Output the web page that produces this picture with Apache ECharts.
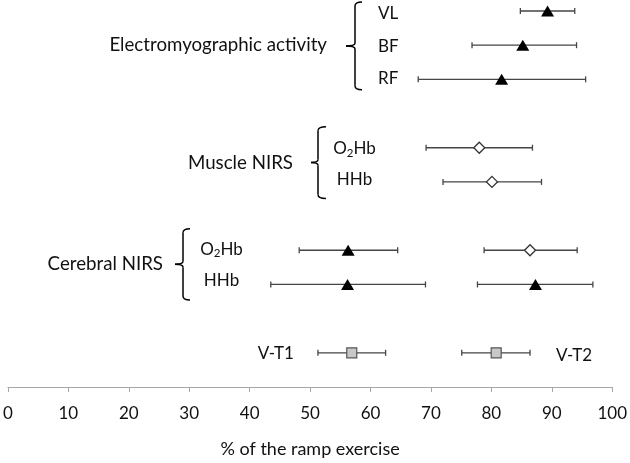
<!DOCTYPE html>
<html><head><meta charset="utf-8">
<script src="https://cdn.jsdelivr.net/npm/echarts@6/dist/echarts.min.js"></script>
<style>html,body{margin:0;padding:0;background:#fff}#c{width:630px;height:463px}</style>
</head><body><div id="c"></div>
<script>
// Row index on the vertical scale (0 = top row)
const emgLabels = ['VL', 'BF', 'RF'];
const emgRows = [0, 1, 2];
const emgMean = [89.3, 85.2, 81.7];
const emgLow = [84.8, 76.8, 67.9];
const emgHigh = [93.8, 94.1, 95.6];

const muscleLabels = ['O2Hb', 'HHb'];
const muscleRows = [4, 5];
const muscleMean = [78.0, 80.1];
const muscleLow = [69.2, 72.0];
const muscleHigh = [86.8, 88.3];

const cerebralLabels = ['O2Hb', 'HHb'];
const cerebralRows = [7, 8];
const cerebral1Mean = [56.3, 56.2];   // first threshold (triangles)
const cerebral1Low = [48.2, 43.5];
const cerebral1High = [64.5, 69.1];
const cerebral2Mean = [86.4, 87.3];   // second threshold (O2Hb diamond, HHb triangle)
const cerebral2Low = [78.8, 77.7];
const cerebral2High = [94.2, 96.8];
const cerebral2Symbol = ['diamond', 'triangle'];

const vtLabels = ['V-T1', 'V-T2'];
const vtRow = 10;
const vtMean = [56.9, 80.8];
const vtLow = [51.3, 75.1];
const vtHigh = [62.5, 86.4];

const xMin = 0, xMax = 100, xInterval = 10;
const xTitle = '% of the ramp exercise';

const FONT = 'Lato';
const TXT = '#111';

// build data
const errData = [], triData = [], diaData = [], sqData = [];
emgRows.forEach((r, i) => { errData.push([emgLow[i], emgHigh[i], r]); triData.push([emgMean[i], r]); });
muscleRows.forEach((r, i) => { errData.push([muscleLow[i], muscleHigh[i], r]); diaData.push([muscleMean[i], r]); });
cerebralRows.forEach((r, i) => {
  errData.push([cerebral1Low[i], cerebral1High[i], r]); triData.push([cerebral1Mean[i], r]);
  errData.push([cerebral2Low[i], cerebral2High[i], r]);
  (cerebral2Symbol[i] === 'diamond' ? diaData : triData).push([cerebral2Mean[i], r]);
});
vtMean.forEach((m, i) => { errData.push([vtLow[i], vtHigh[i], vtRow]); sqData.push([m, vtRow]); });

const chart = echarts.init(document.getElementById('c'), null, { renderer: 'canvas' });
const option = {
  animation: false,
  backgroundColor: '#fff',
  textStyle: { fontFamily: FONT },
  grid: { left: 5.3, right: 14.7, top: 11, bottom: 72.5 },
  xAxis: {
    type: 'value', min: xMin, max: xMax, interval: xInterval,
    name: xTitle, nameLocation: 'middle', nameGap: 53,
    nameTextStyle: { fontFamily: FONT, fontSize: 18, color: TXT },
    axisLine: { onZero: false, lineStyle: { color: '#a6a6a6', width: 1 } },
    axisTick: { show: true, length: 5, lineStyle: { color: '#a6a6a6' } },
    axisLabel: { margin: 18, fontFamily: FONT, fontSize: 17, color: TXT },
    splitLine: { show: false }
  },
  yAxis: { type: 'value', min: 0, max: 11, inverse: true, show: false, splitLine: { show: false } },
  series: [
    {
      type: 'custom', data: errData, encode: { x: [0, 1], y: 2 }, z: 2,
      renderItem: function (params, api) {
        const lo = api.coord([api.value(0), api.value(2)]);
        const hi = api.coord([api.value(1), api.value(2)]);
        const c = 3;
        const st = { stroke: '#454545', lineWidth: 1.3 };
        return { type: 'group', children: [
          { type: 'line', shape: { x1: lo[0], y1: lo[1], x2: hi[0], y2: hi[1] }, style: st },
          { type: 'line', shape: { x1: lo[0], y1: lo[1] - c, x2: lo[0], y2: lo[1] + c }, style: st },
          { type: 'line', shape: { x1: hi[0], y1: hi[1] - c, x2: hi[0], y2: hi[1] + c }, style: st }
        ] };
      }
    },
    { type: 'scatter', data: triData, symbol: 'triangle', symbolSize: [13, 11], z: 5,
      itemStyle: { color: '#000', opacity: 1 } },
    { type: 'scatter', data: diaData, symbol: 'diamond', symbolSize: [11, 11], z: 5,
      itemStyle: { color: '#fff', borderColor: '#333', borderWidth: 1.3, opacity: 1 } },
    { type: 'scatter', data: sqData, symbol: 'rect', symbolSize: [10, 10], z: 5,
      itemStyle: { color: '#c8c8c8', borderColor: '#555', borderWidth: 1.2, opacity: 1 } }
  ]
};
chart.setOption(option);

// ---- annotations (labels and braces), anchored to the data rows ----
function py(row) { return chart.convertToPixel({ gridIndex: 0 }, [0, row])[1]; }
function px(v) { return chart.convertToPixel({ gridIndex: 0 }, [v, 0])[0]; }

const rich = { n: { fontFamily: FONT, fontSize: 17, color: TXT }, s: { fontFamily: FONT, fontSize: 11.5, color: TXT, padding: [9, 0, 0, 0] } };
function labelText(t) { return t === 'O2Hb' ? '{n|O}{s|2}{n|Hb}' : '{n|' + t + '}'; }

const g = [];
function text(x, y, t, align, size) {
  g.push({ type: 'text', x: x, y: y, z: 10, style: { text: t, fontFamily: FONT, fontSize: size || 17, fill: TXT, align: align, verticalAlign: 'middle' } });
}
function richText(x, y, t, align) {
  g.push({ type: 'text', x: x, y: y, z: 10, style: { text: labelText(t), rich: rich, align: align, verticalAlign: 'middle', fill: TXT } });
}
function brace(x, top, bot, tipLen, hook) {
  const m = (top + bot) / 2, r = 4, r2 = 3;
  const st = { stroke: '#000', lineWidth: 1.5, fill: null };
  g.push({ type: 'bezierCurve', z: 10, shape: { x1: x + hook, y1: top, x2: x, y2: top + r, cpx1: x, cpy1: top }, style: st });
  g.push({ type: 'line', z: 10, shape: { x1: x, y1: top + r, x2: x, y2: m - r2 }, style: st });
  g.push({ type: 'bezierCurve', z: 10, shape: { x1: x, y1: m - r2, x2: x - tipLen, y2: m, cpx1: x, cpy1: m }, style: st });
  g.push({ type: 'bezierCurve', z: 10, shape: { x1: x - tipLen, y1: m, x2: x, y2: m + r2, cpx1: x, cpy1: m }, style: st });
  g.push({ type: 'line', z: 10, shape: { x1: x, y1: m + r2, x2: x, y2: bot - r }, style: st });
  g.push({ type: 'bezierCurve', z: 10, shape: { x1: x, y1: bot - r, x2: x + hook, y2: bot, cpx1: x, cpy1: bot }, style: st });
  return m;
}

// EMG group
let m = brace(355, py(emgRows[0]) - 9, py(emgRows[2]) + 10.5, 9, 7);
text(327, m - 1, 'Electromyographic activity', 'right', 18.7);
emgRows.forEach((r, i) => richText(378, py(r) + (i - 1) * -1.5 + 1, emgLabels[i], 'left'));

// Muscle NIRS group
m = brace(318, py(muscleRows[0]) - 21, py(muscleRows[1]) + 16.5, 7, 8);
text(293, m, 'Muscle NIRS', 'right', 18.7);
muscleRows.forEach((r, i) => richText(354.5, py(r) + (i === 0 ? 1 : -2), muscleLabels[i], 'center'));

// Cerebral NIRS group
m = brace(183, py(cerebralRows[0]) - 21.5, py(cerebralRows[1]) + 15.5, 8, 7);
text(163, m, 'Cerebral NIRS', 'right', 18.7);
cerebralRows.forEach((r, i) => richText(221.5, py(r) + (i === 0 ? -1 : -4), cerebralLabels[i], 'center'));

// Threshold labels
text(px(vtLow[0]) - 24, py(vtRow) + 1, vtLabels[0], 'right', 17);
text(px(vtHigh[1]) + 26, py(vtRow) + 3, vtLabels[1], 'left', 17);

chart.setOption({ graphic: { elements: g } });
</script></body></html>
